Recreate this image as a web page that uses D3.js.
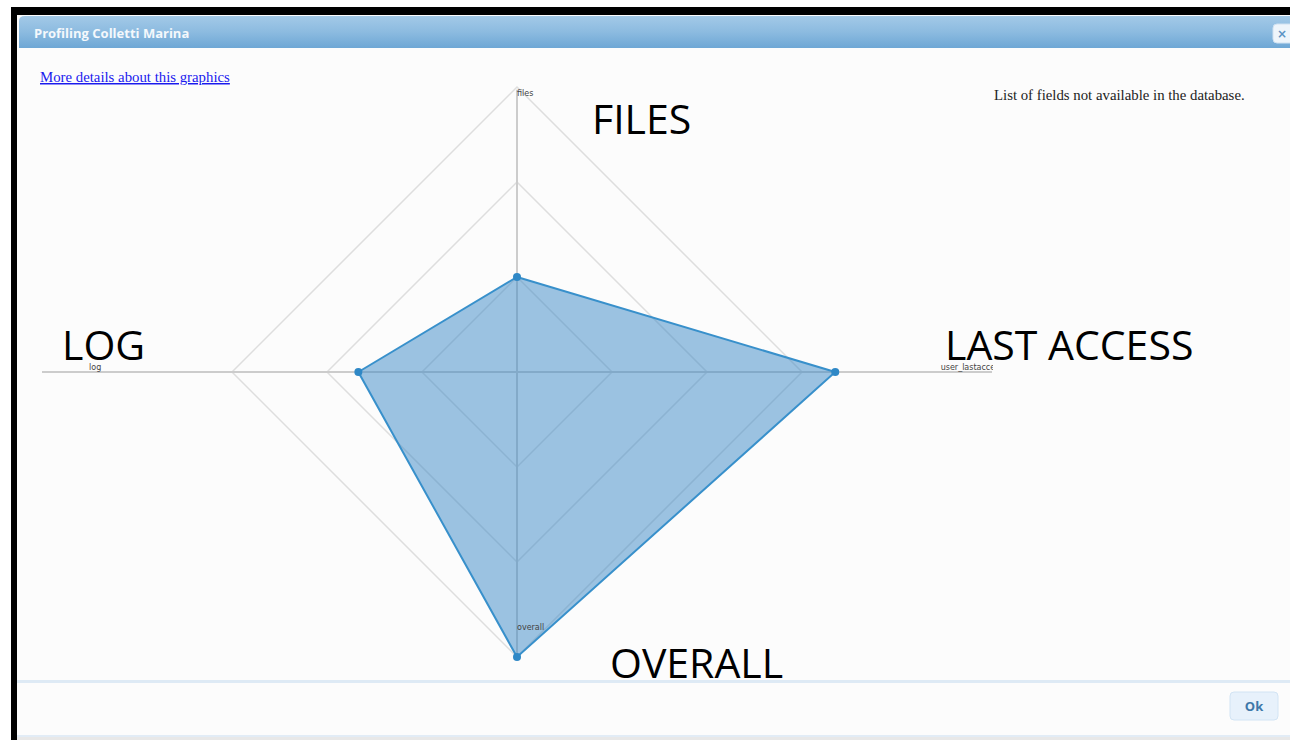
<!DOCTYPE html>
<html>
<head>
<meta charset="utf-8">
<script src="https://cdn.jsdelivr.net/npm/d3@7"></script>
<style>
  html, body { margin: 0; padding: 0; background: #fff; }
  svg { display: block; }
</style>
</head>
<body>
<div id="svg-container" style="width:1290px;height:740px"></div>
<script>
////////////////////////////////////////////////////////////////////
////////////////////////////  Data  ///////////////////////////////
const axes = ["files", "user_lastaccess", "overall", "log"];
const angles = [-90, 0, 90, 180]; // degrees, screen orientation
const values = [1.0, 3.35, 3.0, 1.67];
const axisExtent = [2.97, 5, 3, 5]; // length of each axis line, in grid units
const labelAt = [2.97, 4.46, 2.68, 4.44]; // where the small axis label sits
const levels = [1, 2, 3];
const bigLabels = ["FILES", "LAST ACCESS", "OVERALL", "LOG"];
const dialogTitle = "Profiling Colletti Marina";
const linkText = "More details about this graphics";
const noteText = "List of fields not available in the database.";

////////////////////////////////////////////////////////////////////
////////////////////////////  Init  ///////////////////////////////
const width = 1290;
const height = 740;
const center = { x: 517, y: 372 };

const svg = d3.select("#svg-container").append("svg")
  .attr("width", width)
  .attr("height", height);

const defs = svg.append("defs");
const grad = defs.append("linearGradient").attr("id", "titleGrad")
  .attr("x1", 0).attr("y1", 0).attr("x2", 0).attr("y2", 1);
grad.append("stop").attr("offset", "0%").attr("stop-color", "#a3c9e7");
grad.append("stop").attr("offset", "50%").attr("stop-color", "#8cbbe0");
grad.append("stop").attr("offset", "100%").attr("stop-color", "#6ea7d5");

defs.append("clipPath").attr("id", "chartClip")
  .append("rect").attr("x", 17).attr("y", 50).attr("width", 976).attr("height", 628);

////////////////////////////////////////////////////////////////////
////////////////////////////  Dialog chrome  //////////////////////
// black frame
svg.append("rect").attr("x", 11).attr("y", 7).attr("width", width - 11).attr("height", 8).attr("fill", "#000");
svg.append("rect").attr("x", 11).attr("y", 7).attr("width", 6).attr("height", height - 7).attr("fill", "#000");

// body
svg.append("rect").attr("x", 17).attr("y", 15).attr("width", width - 17).attr("height", height - 15).attr("fill", "#fcfcfc");

// title bar
svg.append("path")
  .attr("d", `M19,48 L19,21 Q19,16 25,16 L${width},16 L${width},48 Z`)
  .attr("fill", "url(#titleGrad)");
svg.append("text")
  .attr("x", 34).attr("y", 38)
  .attr("font-family", "'Open Sans', sans-serif")
  .attr("font-weight", 700).attr("font-size", 13)
  .attr("fill", "#f4f8fc")
  .text(dialogTitle);

// close button
svg.append("rect").attr("x", 1273).attr("y", 24).attr("width", 22).attr("height", 19).attr("rx", 4)
  .attr("fill", "#eef5fb").attr("stroke", "#cfe1f1");
svg.append("text").attr("x", 1282).attr("y", 38)
  .attr("text-anchor", "middle")
  .attr("font-family", "DejaVu Sans, sans-serif").attr("font-weight", 700).attr("font-size", 12)
  .attr("fill", "#5b93c4").text("×");

// link + note
svg.append("text").attr("x", 40).attr("y", 82)
  .attr("font-family", "'Liberation Serif', serif").attr("font-size", 14.8)
  .attr("fill", "#1a1aee").attr("text-decoration", "underline")
  .text(linkText);
svg.append("text").attr("x", 994).attr("y", 100)
  .attr("font-family", "'Liberation Serif', serif").attr("font-size", 14.8)
  .attr("fill", "#222").text(noteText);

////////////////////////////////////////////////////////////////////
////////////////////////////  Radar  //////////////////////////////
const rScale = d3.scaleLinear().domain([0, 3]).range([0, 285]);
const pt = (i, v) => {
  const a = angles[i] * Math.PI / 180;
  return [center.x + Math.cos(a) * rScale(v), center.y + Math.sin(a) * rScale(v)];
};

const chart = svg.append("g").attr("clip-path", "url(#chartClip)");

// grid diamonds
chart.selectAll(".level")
  .data(levels)
  .join("polygon")
  .attr("class", "level")
  .attr("points", (l) => axes.map((d, i) => pt(i, l).join(",")).join(" "))
  .attr("fill", "none")
  .attr("stroke", "#dedede")
  .attr("stroke-width", 1.5);

// axis lines
chart.selectAll(".axis-line")
  .data(axes)
  .join("line")
  .attr("class", "axis-line")
  .attr("x1", center.x).attr("y1", center.y)
  .attr("x2", (d, i) => pt(i, axisExtent[i])[0])
  .attr("y2", (d, i) => pt(i, axisExtent[i])[1])
  .attr("stroke", "#cccccc")
  .attr("stroke-width", 2);

// area
const line = d3.line().curve(d3.curveLinearClosed);
chart.append("path")
  .datum(values.map((v, i) => pt(i, v)))
  .attr("d", line)
  .attr("fill", "#3a87c6")
  .attr("fill-opacity", 0.5)
  .attr("stroke", "#3890cb")
  .attr("stroke-width", 2);

// points
chart.selectAll(".dot")
  .data(values)
  .join("circle")
  .attr("class", "dot")
  .attr("cx", (v, i) => pt(i, v)[0])
  .attr("cy", (v, i) => pt(i, v)[1])
  .attr("r", 4)
  .attr("fill", "#2f88c6");

// small axis labels
const labelDy = [6, -2, 3, -2];
chart.selectAll(".axis-label")
  .data(axes)
  .join("text")
  .attr("class", "axis-label")
  .attr("x", (d, i) => pt(i, labelAt[i])[0])
  .attr("y", (d, i) => pt(i, labelAt[i])[1])
  .attr("dy", (d, i) => labelDy[i])
  .attr("text-anchor", (d, i) => (i === 3 ? "middle" : "start"))
  .attr("font-family", "'DejaVu Sans', sans-serif")
  .attr("font-size", 8)
  .attr("fill", "#444")
  .text((d) => d);

////////////////////////////////////////////////////////////////////
////////////////////////////  Big labels  /////////////////////////
const bigPos = [[592, 134], [945, 360], [610, 678], [62, 360]];
svg.selectAll(".big-label")
  .data(bigLabels)
  .join("text")
  .attr("class", "big-label")
  .attr("x", (d, i) => bigPos[i][0])
  .attr("y", (d, i) => bigPos[i][1])
  .attr("font-family", "'Open Sans', sans-serif")
  .attr("font-size", 41)
  .attr("fill", "#000")
  .text((d) => d);

////////////////////////////////////////////////////////////////////
////////////////////////////  Footer  /////////////////////////////
svg.append("rect").attr("x", 17).attr("y", 680).attr("width", width - 17).attr("height", 3).attr("fill", "#deeaf5");
svg.append("rect").attr("x", 17).attr("y", 735).attr("width", width - 17).attr("height", 2).attr("fill", "#e2ecf6");
svg.append("rect").attr("x", 17).attr("y", 737).attr("width", width - 17).attr("height", 3).attr("fill", "#e8e8e8");

svg.append("rect").attr("x", 1230).attr("y", 692).attr("width", 48).attr("height", 28).attr("rx", 4)
  .attr("fill", "#e7f1fb").attr("stroke", "#d2e4f4");
svg.append("text").attr("x", 1254).attr("y", 711)
  .attr("text-anchor", "middle")
  .attr("font-family", "'Open Sans', sans-serif").attr("font-weight", 700).attr("font-size", 13)
  .attr("fill", "#3e78a9").text("Ok");
</script>
</body>
</html>
